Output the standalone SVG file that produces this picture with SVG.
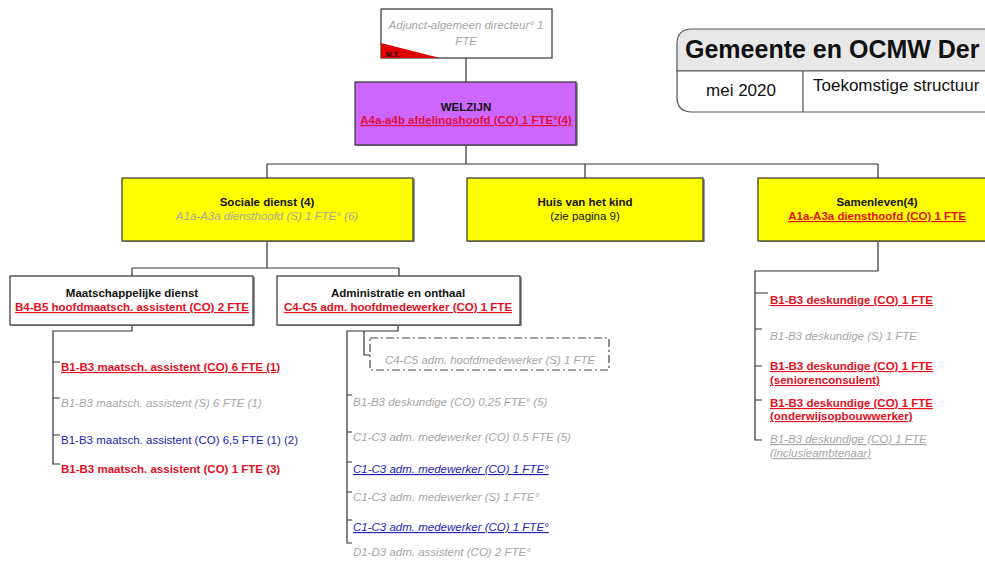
<svg xmlns="http://www.w3.org/2000/svg" width="985" height="566" viewBox="0 0 985 566">
<style>
text{font-family:"Liberation Sans",Arial,sans-serif;font-size:11.5px}
.c{text-anchor:middle}
.b{font-weight:bold}
.i{font-style:italic}
.u{text-decoration:underline}
.red{fill:#E3101E}
.grey{fill:#A6A6A6}
.blue{fill:#2323B4}
.blk{fill:#111}
.box{stroke:#333;stroke-width:1.2}
.sh{fill:#9a9a9a}
.con{fill:none;stroke:#333;stroke-width:1.2}
</style>
<rect width="985" height="566" fill="#fff"/>

<g id="connectors">
<path class="con" d="M466,58V82"/>
<path class="con" d="M466,146V164M267,164H878M267,164V178M585,164V178M878,164V178"/>
<path class="con" d="M267,241V268M132,268H399M132,268V276M399,268V276"/>
<path class="con" d="M132,325V331H53V464H60M53,362H60M53,398H60M53,435H60"/>
<path class="con" d="M398,325V331H347V543H352M347,395H352M347,432H352M347,462H352M347,492H352M347,520H352"/>
<path class="con" d="M364,331V355H370"/>
<path class="con" d="M878,241V271H755V440H762M755,293H768M755,329H762M755,366H762M755,400H762"/>
</g>

<g id="title">
<path d="M1100,29H692Q677,29 677,44V71H1100Z" fill="#E8E8E8" stroke="#555" stroke-width="1.2"/>
<path d="M1100,71H677V97Q677,112 692,112H1100" fill="#fff" stroke="#555" stroke-width="1.2"/>
<path d="M803,71V112" stroke="#555" stroke-width="1.2"/>
<text x="685" y="58" class="b blk" style="font-size:25px">Gemeente en OCMW Der</text>
<text x="741" y="96" class="c blk" style="font-size:17px">mei 2020</text>
<text x="813" y="91" class="blk" style="font-size:17px">Toekomstige structuur</text>
</g>

<g id="adjunct">
<rect x="381" y="9" width="171" height="49" fill="#fff" class="box"/>
<path d="M381,43L440,58H381Z" fill="#E00000"/>
<text x="386" y="57" class="b blk" style="font-size:7px">M.T.</text>
<text x="466" y="29" class="c i grey">Adjunct-algemeen directeur° 1</text>
<text x="466" y="45" class="c i grey">FTE</text>
</g>

<g id="welzijn">
<rect x="357" y="83" width="221" height="63" class="sh"/>
<rect x="355" y="82" width="221" height="63" fill="#CC66FF" class="box"/>
<text x="466" y="111" class="c b blk">WELZIJN</text>
<text x="466" y="124" class="c b u" fill="#E3103A">A4a-a4b afdelingshoofd (CO) 1 FTE°(4)</text>
</g>

<g id="sociale-dienst">
<rect x="124" y="179" width="291" height="63" class="sh"/>
<rect x="122" y="178" width="291" height="63" fill="#FFFF00" class="box"/>
<text x="267" y="206" class="c b blk">Sociale dienst (4)</text>
<text x="267" y="220" class="c i grey">A1a-A3a diensthoofd (S) 1 FTE° (6)</text>
</g>

<g id="huis-van-het-kind">
<rect x="469" y="179" width="236" height="63" class="sh"/>
<rect x="467" y="178" width="236" height="63" fill="#FFFF00" class="box"/>
<text x="585" y="206" class="c b blk">Huis van het kind</text>
<text x="585" y="220" class="c blk">(zie pagina 9)</text>
</g>

<g id="samenleven">
<rect x="760" y="179" width="240" height="63" class="sh"/>
<rect x="758" y="178" width="240" height="63" fill="#FFFF00" class="box"/>
<text x="877" y="206" class="c b blk">Samenleven(4)</text>
<text x="877" y="220" class="c b u red">A1a-A3a diensthoofd (CO) 1 FTE</text>
</g>

<g id="maatschappelijke-dienst">
<rect x="12" y="277" width="243" height="49" class="sh"/>
<rect x="10" y="276" width="243" height="49" fill="#fff" class="box"/>
<text x="132" y="297" class="c b blk">Maatschappelijke dienst</text>
<text x="132" y="311" class="c b u red">B4-B5 hoofdmaatsch. assistent (CO) 2 FTE</text>
</g>

<g id="administratie">
<rect x="279" y="277" width="243" height="49" class="sh"/>
<rect x="277" y="276" width="243" height="49" fill="#fff" class="box"/>
<text x="398" y="297" class="c b blk">Administratie en onthaal</text>
<text x="398" y="311" class="c b u red">C4-C5 adm. hoofdmedewerker (CO) 1 FTE</text>
</g>

<g id="adm-hoofdmedewerker-s">
<rect x="370" y="338" width="239" height="32" fill="#fff" stroke="#444" stroke-width="1.2" stroke-dasharray="8 3 2 3"/>
<text x="385" y="364" class="i grey">C4-C5 adm. hoofdmedewerker (S) 1 FTE</text>
</g>

<g id="maatschappelijke-items">
<text x="61" y="371" class="b u red">B1-B3 maatsch. assistent (CO) 6 FTE (1)</text>
<text x="61" y="407" class="i grey">B1-B3 maatsch. assistent (S) 6 FTE (1)</text>
<text x="61" y="444" class="blue">B1-B3 maatsch. assistent (CO) 6,5 FTE (1) (2)</text>
<text x="61" y="473" class="b red">B1-B3 maatsch. assistent (CO) 1 FTE (3)</text>
</g>

<g id="administratie-items">
<text x="353" y="406" class="i grey">B1-B3 deskundige (CO) 0,25 FTE° (5)</text>
<text x="353" y="441" class="i grey">C1-C3 adm. medewerker (CO) 0.5 FTE (5)</text>
<text x="353" y="473" class="i u blue">C1-C3 adm. medewerker (CO) 1 FTE°</text>
<text x="353" y="501" class="i grey">C1-C3 adm. medewerker (S) 1 FTE°</text>
<text x="353" y="531" class="i u blue">C1-C3 adm. medewerker (CO) 1 FTE°</text>
<text x="353" y="556" class="i grey">D1-D3 adm. assistent (CO) 2 FTE°</text>
</g>

<g id="samenleven-items">
<text x="770" y="304" class="b u red">B1-B3 deskundige (CO) 1 FTE</text>
<text x="770" y="340" class="i grey">B1-B3 deskundige (S) 1 FTE</text>
<text x="770" y="370" class="b u red">B1-B3 deskundige (CO) 1 FTE</text>
<text x="770" y="384" class="b u red">(seniorenconsulent)</text>
<text x="770" y="407" class="b u red">B1-B3 deskundige (CO) 1 FTE</text>
<text x="770" y="420" class="b u red">(onderwijsopbouwwerker)</text>
<text x="770" y="443" class="i u grey">B1-B3 deskundige (CO) 1 FTE</text>
<text x="770" y="457" class="i u grey">(inclusieambtenaar)</text>
</g>
</svg>
